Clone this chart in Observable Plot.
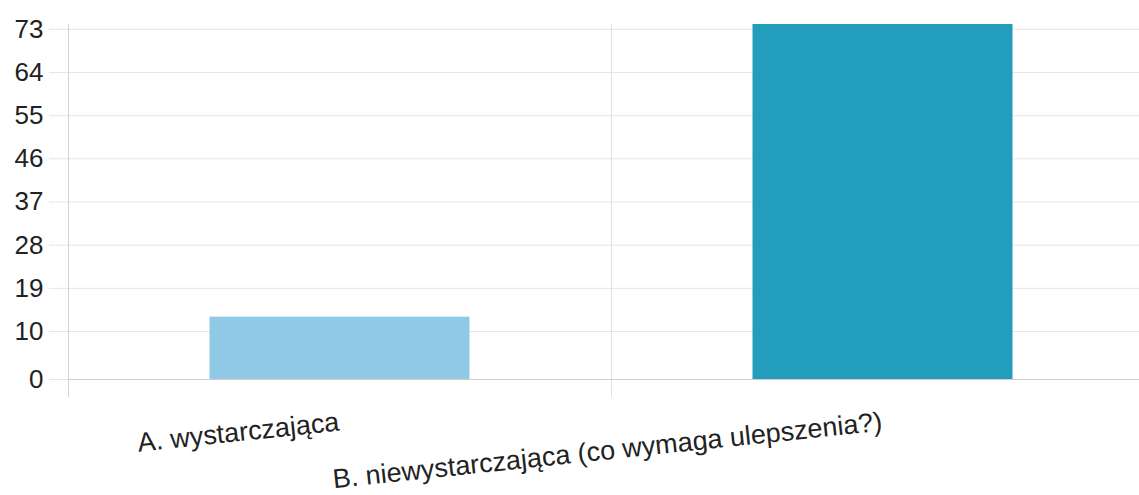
<!DOCTYPE html>
<html>
<head>
<meta charset="utf-8">
<script src="https://cdn.jsdelivr.net/npm/d3@7"></script>
<script src="https://cdn.jsdelivr.net/npm/@observablehq/plot@0.6"></script>
<style>
  html, body { margin: 0; padding: 0; background: #fff; overflow: hidden; }
  #chart svg { overflow: hidden; }
</style>
</head>
<body>
<div id="chart"></div>
<script>
const categories = ["A. wystarczająca", "B. niewystarczająca (co wymaga ulepszenia?)"];
const counts = [13, 74];
const barColors = ["#8fc9e5", "#229dbb"];
const yTicks = [0, 10, 19, 28, 37, 46, 55, 64, 73];

const data = categories.map((c, i) => ({i, cat: c, count: counts[i], color: barColors[i]}));
const bounds = d3.range(categories.length + 1);

const gridColor = "#e6e6e6";

const chart = Plot.plot({
  width: 1139,
  height: 495,
  marginTop: 24,
  marginBottom: 116,
  marginLeft: 68,
  marginRight: -15,
  style: {fontFamily: "'Liberation Sans', Arial, sans-serif", background: "#fff"},
  x: {type: "linear", domain: [0, categories.length], axis: null},
  y: {domain: [0, d3.max(counts)], axis: null},
  color: {type: "identity"},
  marks: [
    Plot.gridY(yTicks, {stroke: gridColor, strokeOpacity: 1}),
    Plot.axisY({ticks: yTicks, tickSize: 19, tickPadding: 6, fontSize: 26, stroke: gridColor, fill: "#222", strokeOpacity: 1, label: null}),
    Plot.ruleX(bounds.slice(0, 1), {stroke: "#d2d2d2", insetBottom: -18}),
    Plot.ruleX(bounds.slice(1), {stroke: "#e2e2e2", insetBottom: -18}),
    Plot.ruleY([0], {stroke: "#cfcfcf"}),
    Plot.rectY(data, {x1: d => d.i, x2: d => d.i + 1, y: "count", fill: d => d.color, insetLeft: 141.5, insetRight: 141.5}),
    Plot.axisX({
      ticks: categories.map((_, i) => i + 0.5),
      tickFormat: v => categories[Math.floor(v)],
      tickSize: 0,
      tickRotate: -6,
      textAnchor: "end",
      lineAnchor: "bottom",
      tickPadding: 51,
      fontSize: 27,
      fill: "#222",
      label: null
    })
  ]
});
document.getElementById("chart").appendChild(chart);
</script>
</body>
</html>
